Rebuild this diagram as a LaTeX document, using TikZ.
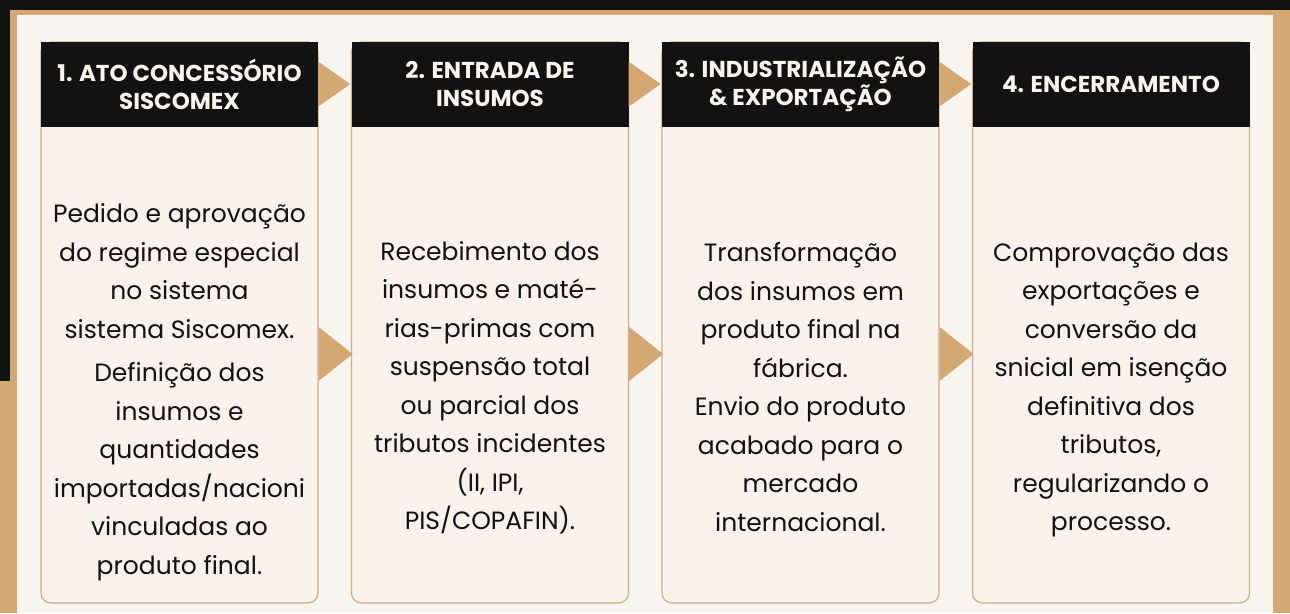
\documentclass[tikz,border=0pt]{standalone}
\usepackage{fontspec}
\setmainfont{Poppins}
\usetikzlibrary{positioning, calc}
\definecolor{ink}{HTML}{121212}
\definecolor{sand}{HTML}{D3A873}
\definecolor{paper}{HTML}{F8F4EE}
\definecolor{cardfill}{HTML}{F7F2EA}
\definecolor{cardline}{HTML}{CDAE87}

\begin{document}
\begin{tikzpicture}[x=1pt, y=-1pt, node distance=32.3pt,
    card/.style={draw=cardline, line width=1.2pt, fill=cardfill, rounded corners=10pt, minimum width=277pt, minimum height=561pt, inner sep=0pt},
    head/.style={fill=ink, text=paper, minimum width=277pt, minimum height=85pt, inner sep=0pt, align=center, font=\bfseries\fontsize{23}{28}\selectfont},
    desc/.style={text=ink, align=center, inner sep=0pt, font=\fontsize{25}{38.5}\selectfont},
    flowtip/.style={fill=sand}]
    \useasboundingbox (0,0) rectangle (1290,613);
    \fill[sand] (0,0) rectangle (1290,613);
    \fill[ink] (0,0) rectangle (1290,10);
    \fill[ink] (0,0) rectangle (10,381);
    \fill[paper] (17,15) rectangle (1273,613);
    \node[card] (b1) at (179.5,322.5) {};
    \node[card,right=of b1] (b2) {};
    \node[card,right=of b2] (b3) {};
    \node[card,right=of b3] (b4) {};
    \node[head,anchor=north] (h1) at (b1.north) {1. ATO CONCESSÓRIO\\SISCOMEX};
    \node[head,anchor=north] (h2) at (b2.north) {2. ENTRADA DE\\INSUMOS};
    \node[head,anchor=north] (h3) at (b3.north) {3. INDUSTRIALIZAÇÃO\\\& EXPORTAÇÃO};
    \node[head,anchor=north] (h4) at (b4.north) {4. ENCERRAMENTO};
    \foreach \i in {1,2,3} {
        \fill[flowtip] ($(h\i.east)+(0,-22.5)$) -- ($(h\i.east)+(32,0)$) -- ($(h\i.east)+(0,22.5)$) -- cycle;
        \fill[flowtip] ($(b\i.east |- 0,354)+(0,-27)$) -- ($(b\i.east |- 0,354)+(34,0)$) -- ($(b\i.east |- 0,354)+(0,27)$) -- cycle;
    }
    \node[desc] (t1) at (b1.center |- 0,392) {Pedido e aprovação\\do regime especial\\no sistema\\sistema Siscomex.\\[5pt]Definição dos\\insumos e\\quantidades\\importadas/nacioni\\vinculadas ao\\produto final.};
    \node[desc] (t2) at (b2.center |- 0,388) {Recebimento dos\\insumos e maté-\\rias-primas com\\suspensão total\\ou parcial dos\\tributos incidentes\\(II, IPI,\\PIS/COPAFIN).};
    \node[desc] (t3) at (b3.center |- 0,387) {Transformação\\dos insumos em\\produto final na\\fábrica.\\Envio do produto\\acabado para o\\mercado\\internacional.};
    \node[desc] (t4) at (b4.center |- 0,390) {Comprovação das\\exportações e\\conversão da\\snicial em isenção\\definitiva dos\\tributos,\\regularizando o\\processo.};
\end{tikzpicture}
\end{document}
